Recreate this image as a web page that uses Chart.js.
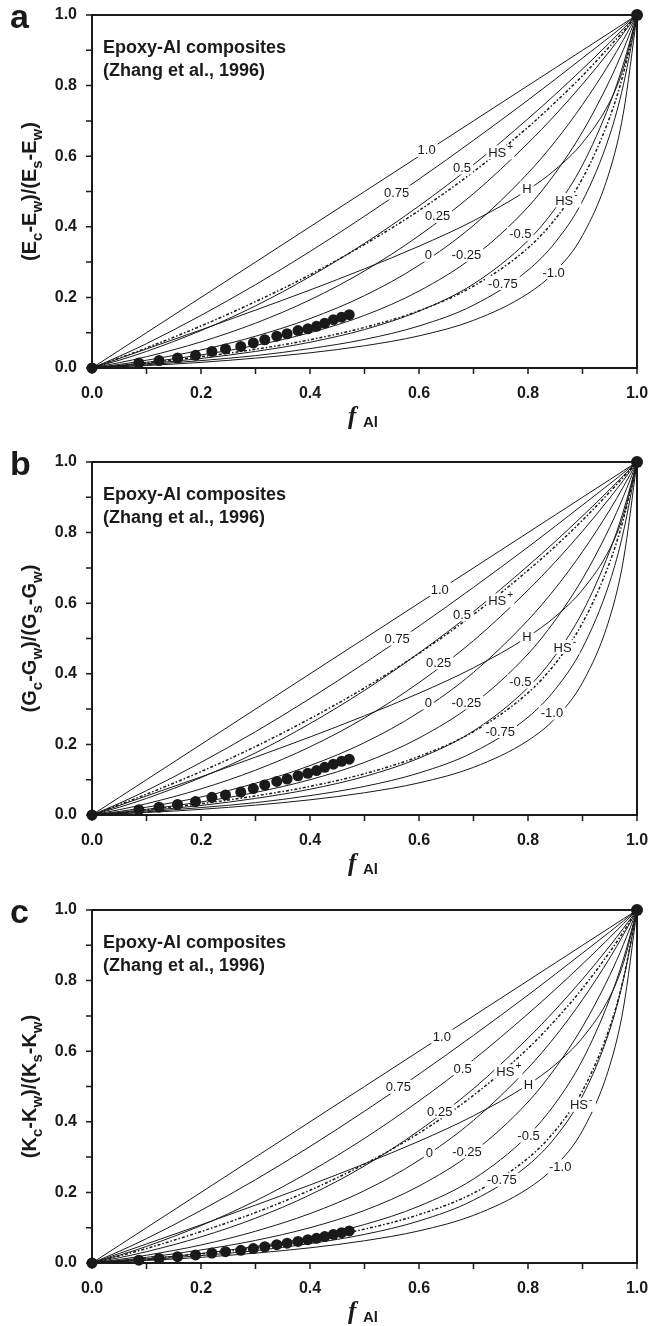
<!DOCTYPE html>
<html>
<head>
<meta charset="utf-8">
<script src="https://cdn.jsdelivr.net/npm/chart.js@4.4.0/dist/chart.umd.min.js"></script>
<style>
  body { margin: 0; background: #fff; width: 656px; height: 1326px; overflow: hidden; position: relative; }
  .panel { position: absolute; left: 0; width: 656px; }
</style>
</head>
<body>
<div class="panel" style="top:0px;height:448px"><canvas id="chartA" width="656" height="448"></canvas></div>
<div class="panel" style="top:447px;height:448px"><canvas id="chartB" width="656" height="448"></canvas></div>
<div class="panel" style="top:895px;height:431px"><canvas id="chartC" width="656" height="431"></canvas></div>
<script>
// volume fraction of Al where the model curves were read
const fGrid = [0, 0.05, 0.1, 0.2, 0.3, 0.4, 0.5, 0.6, 0.7, 0.8, 0.85, 0.9, 0.95, 0.975, 1];

// power-law mixing curves, labelled by exponent
const curveNames = ["1.0", "0.75", "0.5", "0.25", "0", "-0.25", "-0.5", "-0.75", "-1.0"];
const p100 = [0, 0.05, 0.1, 0.2, 0.3, 0.4, 0.5, 0.6, 0.7, 0.8, 0.85, 0.9, 0.95, 0.975, 1];
const p075 = [0, 0.033, 0.069, 0.149, 0.236, 0.330, 0.430, 0.535, 0.645, 0.759, 0.818, 0.878, 0.938, 0.969, 1];
const p050 = [0, 0.022, 0.047, 0.106, 0.176, 0.259, 0.353, 0.459, 0.576, 0.706, 0.775, 0.847, 0.922, 0.961, 1];
const p025 = [0, 0.015, 0.032, 0.074, 0.127, 0.193, 0.275, 0.375, 0.494, 0.637, 0.717, 0.804, 0.898, 0.948, 1];
const p000 = [0, 0.010, 0.022, 0.051, 0.090, 0.140, 0.205, 0.291, 0.404, 0.552, 0.642, 0.746, 0.864, 0.930, 1];
const m025 = [0, 0.007, 0.016, 0.037, 0.064, 0.100, 0.149, 0.218, 0.315, 0.456, 0.552, 0.669, 0.815, 0.902, 1];
const m050 = [0, 0.006, 0.012, 0.027, 0.047, 0.073, 0.109, 0.161, 0.238, 0.361, 0.452, 0.575, 0.748, 0.861, 1];
const m075 = [0, 0.004, 0.009, 0.021, 0.035, 0.055, 0.081, 0.119, 0.178, 0.277, 0.356, 0.473, 0.660, 0.802, 1];
const m100 = [0, 0.0035, 0.007, 0.016, 0.028, 0.043, 0.063, 0.091, 0.135, 0.211, 0.274, 0.375, 0.559, 0.722, 1];
const hill = [0, 0.027, 0.054, 0.108, 0.164, 0.221, 0.281, 0.345, 0.417, 0.505, 0.562, 0.638, 0.754, 0.849, 1];

// Hashin-Shtrikman bounds, one pair per panel
const hsUpperE = [0, 0.028, 0.057, 0.119, 0.188, 0.264, 0.350, 0.446, 0.556, 0.682, 0.753, 0.828, 0.911, 0.954, 1];
const hsLowerE = [0, 0.007, 0.014, 0.032, 0.053, 0.080, 0.115, 0.162, 0.232, 0.340, 0.422, 0.537, 0.710, 0.834, 1];
const hsUpperG = [0, 0.029, 0.059, 0.123, 0.194, 0.273, 0.360, 0.458, 0.568, 0.693, 0.761, 0.835, 0.915, 0.957, 1];
const hsLowerG = [0, 0.007, 0.015, 0.032, 0.054, 0.081, 0.117, 0.166, 0.236, 0.346, 0.429, 0.544, 0.716, 0.838, 1];
const hsUpperK = [0, 0.020, 0.041, 0.089, 0.143, 0.206, 0.280, 0.368, 0.475, 0.608, 0.688, 0.778, 0.881, 0.938, 1];
const hsLowerK = [0, 0.006, 0.012, 0.026, 0.043, 0.066, 0.096, 0.137, 0.198, 0.297, 0.375, 0.488, 0.668, 0.805, 1];

// measured points (Zhang et al., 1996)
const measF = [0, 0.086, 0.123, 0.157, 0.190, 0.220, 0.245, 0.273, 0.296, 0.317, 0.339, 0.358, 0.378, 0.396, 0.412, 0.427, 0.443, 0.458, 0.472];
const measE = [0, 0.014, 0.021, 0.028, 0.036, 0.047, 0.054, 0.061, 0.071, 0.080, 0.090, 0.097, 0.106, 0.111, 0.118, 0.127, 0.137, 0.144, 0.151];
const measG = [0, 0.015, 0.022, 0.030, 0.038, 0.050, 0.057, 0.065, 0.075, 0.085, 0.095, 0.102, 0.111, 0.118, 0.126, 0.135, 0.144, 0.152, 0.158];
const measK = [0, 0.008, 0.013, 0.018, 0.023, 0.028, 0.032, 0.036, 0.041, 0.046, 0.052, 0.056, 0.061, 0.066, 0.070, 0.075, 0.081, 0.086, 0.091];
const endF = [1];
const endN = [1];

const tickLabels = ["0.0", "0.2", "0.4", "0.6", "0.8", "1.0"];

// label anchors (f, n) for each curve, in curveNames order, then H, HS+, HS-
const labelsA = [[0.614, 0.618], [0.559, 0.497], [0.679, 0.568], [0.634, 0.431], [0.617, 0.321], [0.687, 0.321], [0.786, 0.380], [0.754, 0.241], [0.847, 0.272]];
const labelsB = [[0.638, 0.640], [0.560, 0.500], [0.679, 0.569], [0.636, 0.432], [0.617, 0.319], [0.687, 0.319], [0.786, 0.378], [0.749, 0.238], [0.844, 0.290]];
const labelsC = [[0.642, 0.642], [0.562, 0.499], [0.680, 0.552], [0.638, 0.430], [0.619, 0.313], [0.688, 0.316], [0.801, 0.361], [0.752, 0.236], [0.859, 0.274]];
const boundLabelsA = [[0.798, 0.510], [0.749, 0.611], [0.872, 0.475]];
const boundLabelsB = [[0.798, 0.507], [0.749, 0.608], [0.869, 0.476]];
const boundLabelsC = [[0.801, 0.505], [0.764, 0.543], [0.899, 0.448]];

const INK = "#1a1a1a";
const SANS = "'Liberation Sans', Arial, sans-serif";

function pts(xs, ys) {
  return xs.map((x, i) => ({ x: x, y: ys[i] }));
}

function curve(ys, dash) {
  return {
    data: pts(fGrid, ys),
    borderColor: INK,
    borderWidth: dash ? 1.5 : 1,
    borderDash: dash || [],
    pointRadius: 0,
    fill: false,
    cubicInterpolationMode: "monotone",
  };
}

function dots(xs, ys, r) {
  return {
    data: pts(xs, ys),
    showLine: false,
    pointRadius: r,
    pointHoverRadius: r,
    backgroundColor: INK,
    borderWidth: 0,
    clip: false,
  };
}

// rich text: parts are [text, isSubscript]
function drawRich(ctx, parts, size, align) {
  const sub = Math.round(size * 0.75);
  let w = 0;
  parts.forEach(p => {
    ctx.font = "bold " + (p[1] ? sub : size) + "px " + SANS;
    w += ctx.measureText(p[0]).width;
  });
  let x = align === "center" ? -w / 2 : 0;
  ctx.textAlign = "left";
  ctx.textBaseline = "alphabetic";
  parts.forEach(p => {
    ctx.font = "bold " + (p[1] ? sub : size) + "px " + SANS;
    ctx.fillText(p[0], x, p[1] ? size * 0.28 : 0);
    x += ctx.measureText(p[0]).width;
  });
}

const decor = {
  id: "decor",
  afterDatasetsDraw(chart) {
    const o = chart.options.plugins.decor;
    const ctx = chart.ctx;
    const a = chart.chartArea;
    const xs = chart.scales.x, ys = chart.scales.y;
    ctx.save();

    // curve labels with a white gap in the line
    const put = (txt, pos, sup) => {
      const px = xs.getPixelForValue(pos[0]);
      const py = ys.getPixelForValue(pos[1]);
      ctx.font = "13px " + SANS;
      const tw = ctx.measureText(txt).width;
      const w = tw + (sup ? 6 : 0);
      ctx.fillStyle = "#fff";
      ctx.fillRect(px - w / 2 - 2, py - 7, w + 4, 14);
      ctx.fillStyle = INK;
      ctx.textAlign = "left";
      ctx.textBaseline = "middle";
      ctx.fillText(txt, px - w / 2, py + 1);
      if (sup) {
        ctx.font = "10px " + SANS;
        ctx.fillText(sup, px - w / 2 + tw + 1, py - 5);
      }
    };
    o.labels.forEach((pos, i) => put(curveNames[i], pos));
    put("H", o.bounds[0]);
    put("HS", o.bounds[1], "+");
    put("HS", o.bounds[2], "-");

    // frame
    ctx.strokeStyle = INK;
    ctx.lineWidth = 2;
    ctx.strokeRect(a.left, a.top, a.right - a.left, a.bottom - a.top);

    // outward ticks
    ctx.lineWidth = 1.5;
    ctx.beginPath();
    xs.ticks.forEach(t => {
      const p = xs.getPixelForValue(t.value);
      ctx.moveTo(p, a.bottom);
      ctx.lineTo(p, a.bottom + 6);
    });
    ys.ticks.forEach(t => {
      const p = ys.getPixelForValue(t.value);
      ctx.moveTo(a.left, p);
      ctx.lineTo(a.left - 6, p);
    });
    ctx.stroke();

    // note
    ctx.fillStyle = INK;
    ctx.textAlign = "left";
    ctx.textBaseline = "alphabetic";
    ctx.font = "bold 18px " + SANS;
    ctx.fillText("Epoxy-Al composites", 103, 53);
    ctx.fillText("(Zhang et al., 1996)", 103, 76);

    // panel letter
    ctx.font = "bold 34px " + SANS;
    ctx.fillText(o.letter, 10, 28);

    // y title
    const s = o.sym;
    ctx.save();
    ctx.translate(36, (a.top + a.bottom) / 2);
    ctx.rotate(-Math.PI / 2);
    drawRich(ctx, [["(" + s, 0], ["c", 1], ["-" + s, 0], ["w", 1], [")/(" + s, 0], ["s", 1], ["-" + s, 0], ["w", 1], [")", 0]], 20, "center");
    ctx.restore();

    // x title
    ctx.font = "italic bold 25px 'Liberation Serif', serif";
    ctx.fillText("f", 348, 424);
    ctx.font = "bold 15px " + SANS;
    ctx.fillText("Al", 363, 427);

    ctx.restore();
  }
};

function makeChart(id, sym, letter, meas, hsUp, hsLow, labels, bounds, xHeight) {
  const datasets = [p100, p075, p050, p025, p000, m025, m050, m075, m100].map(c => curve(c));
  datasets.push(curve(hill));
  datasets.push(curve(hsUp, [3, 2, 1.5, 2]));
  datasets.push(curve(hsLow, [3, 2, 1.5, 2]));
  datasets.push(dots(measF, meas, 5.5));
  datasets.push(dots(endF, endN, 6));

  const tickFont = { family: SANS, weight: "bold", size: 16 };
  const tickCb = (v) => {
    const k = Math.round(v * 10);
    return k % 2 === 0 ? tickLabels[k / 2] : "";
  };

  new Chart(document.getElementById(id), {
    type: "line",
    data: { datasets: datasets },
    options: {
      responsive: false,
      animation: false,
      events: [],
      layout: { padding: { left: 0, right: 19, top: 15, bottom: 0 } },
      plugins: {
        legend: { display: false },
        tooltip: { enabled: false },
        decor: { letter: letter, sym: sym, labels: labels, bounds: bounds },
      },
      scales: {
        x: {
          type: "linear", min: 0, max: 1,
          grid: { display: false, drawTicks: false },
          border: { display: false },
          ticks: { stepSize: 0.1, callback: tickCb, font: tickFont, color: INK, padding: 16, maxRotation: 0, autoSkip: false },
          afterFit: (sc) => { sc.height = xHeight; sc.paddingLeft = 0; sc.paddingRight = 0; },
        },
        y: {
          type: "linear", min: 0, max: 1,
          grid: { display: false, drawTicks: false },
          border: { display: false },
          ticks: { stepSize: 0.1, callback: tickCb, font: tickFont, color: INK, padding: 15, autoSkip: false },
          afterFit: (sc) => { sc.width = 92; sc.paddingTop = 0; sc.paddingBottom = 0; },
        },
      },
    },
    plugins: [decor],
  });
}

makeChart("chartA", "E", "a", measE, hsUpperE, hsLowerE, labelsA, boundLabelsA, 80);
makeChart("chartB", "G", "b", measG, hsUpperG, hsLowerG, labelsB, boundLabelsB, 80);
makeChart("chartC", "K", "c", measK, hsUpperK, hsLowerK, labelsC, boundLabelsC, 63);
</script>
</body>
</html>
